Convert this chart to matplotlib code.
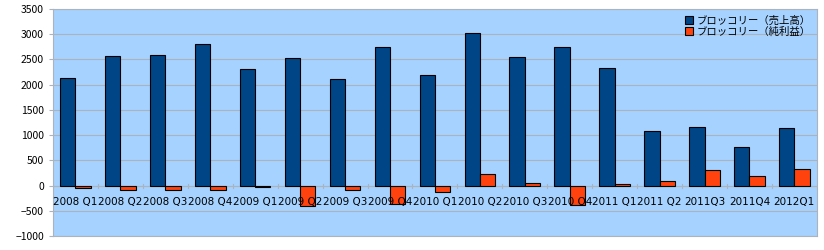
import matplotlib.pyplot as plt
import numpy as np

plt.rcParams['font.family'] = ['Noto Sans CJK JP', 'DejaVu Sans']

quarters = ['2008 Q1', '2008 Q2', '2008 Q3', '2008 Q4',
            '2009 Q1', '2009 Q2', '2009 Q3', '2009 Q4',
            '2010 Q1', '2010 Q2', '2010 Q3', '2010 Q4',
            '2011 Q1', '2011 Q2', '2011Q3', '2011Q4', '2012Q1']
sales = [2140, 2560, 2580, 2800, 2320, 2520, 2120, 2740, 2200,
         3020, 2540, 2740, 2340, 1090, 1170, 770, 1150]
net_income = [-40, -80, -90, -90, -20, -400, -80, -360, -130,
              220, 60, -380, 40, 100, 300, 180, 320]

fig = plt.figure(figsize=(8.24, 2.5), dpi=100)
ax = fig.add_axes([0.0643, 0.056, 0.927, 0.908])
ax.set_facecolor('#a6d2ff')

x = np.arange(len(quarters))
w = 0.34
ax.bar(x - w/2, sales, w, color='#004586', edgecolor='black', linewidth=0.8,
       label='ブロッコリー（売上高）', zorder=3)
ax.bar(x + w/2, net_income, w, color='#ff420e', edgecolor='black', linewidth=0.8,
       label='ブロッコリー（純利益）', zorder=3)

ax.set_xlim(-0.5, len(quarters) - 0.5)
ax.set_ylim(-1000, 3500)
ax.set_yticks(range(-1000, 3501, 500))
ax.yaxis.grid(True, color='#a9b4bf', linewidth=0.8, zorder=0)
ax.axhline(0, color='#a9b4bf', linewidth=0.8, zorder=2)
# small ticks on the zero line between categories
for xb in np.arange(-0.5, len(quarters), 1.0):
    ax.plot([xb, xb], [-40, 40], color='#a9b4bf', linewidth=0.8, zorder=2)

ax.set_xticks([])
for i, q in enumerate(quarters):
    ax.text(i, -320, q, ha='center', va='center', fontsize=7.5,
            family='DejaVu Sans', zorder=4)

ax.tick_params(axis='y', labelsize=7.5, length=3, color='#a9b4bf')
for s in ax.spines.values():
    s.set_color('#a9b4bf')

ax.legend(loc='upper right', fontsize=7.5, frameon=False, handlelength=0.8,
          handleheight=0.8, handletextpad=0.3, borderaxespad=0.2,
          labelspacing=0.1)

fig.savefig('out.png')
